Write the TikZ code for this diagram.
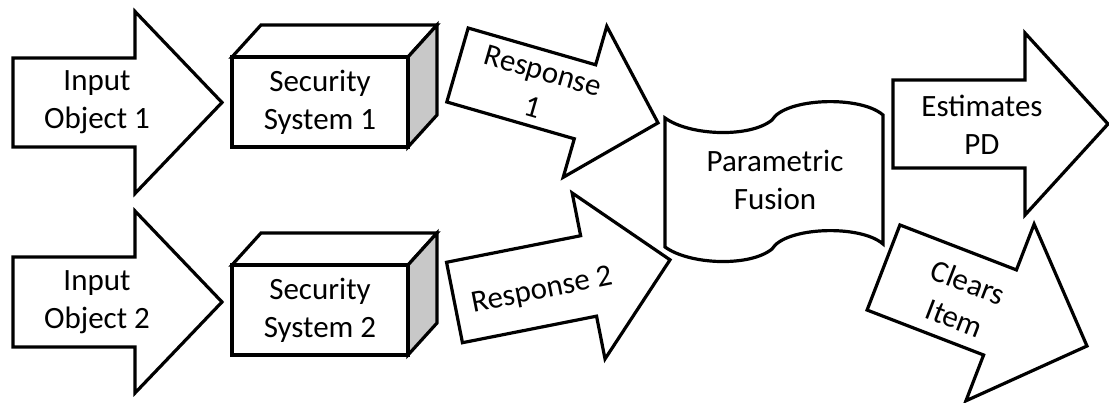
\documentclass[tikz,border=0pt]{standalone}
\usepackage{fontspec}
\setmainfont{Carlito}
\definecolor{sidegray}{RGB}{200,200,200}
% block arrow: back-middle point, angle, total length, half shaft width, head length, half head width
\newcommand\fatarrow[6]{%
  \draw[shape line, shift={(#1)}, rotate=#2]
    (0,-#4) -- ({#3-#5},-#4) -- ({#3-#5},-#6) -- (#3,0)
    -- ({#3-#5},#6) -- ({#3-#5},#4) -- (0,#4) -- cycle;}
% 3D box: front top-left corner x,y ; width ; height ; depth dx ; depth dy
\newcommand\secbox[6]{%
  \draw[shape line] (#1,#2) -- ({#1+#5},{#2+#6}) -- ({#1+#3+#5},{#2+#6}) -- ({#1+#3},#2) -- cycle;
  \draw[shape line, fill=sidegray] ({#1+#3},#2) -- ({#1+#3+#5},{#2+#6})
    -- ({#1+#3+#5},{#2+#4+#6}) -- ({#1+#3},{#2+#4}) -- cycle;
  \draw[shape line] (#1,#2) rectangle ({#1+#3},{#2+#4});}
\begin{document}
\begin{tikzpicture}[x=1pt, y=-1pt,
  shape line/.style={draw=black, line width=3.2pt, fill=white, line join=miter},
  label text/.style={font=\fontsize{31}{38}\selectfont, align=center,
    inner sep=0pt, text=black}]
\useasboundingbox (0,0) rectangle (1109,403);

% input arrows
\fatarrow{13,102.5}{0}{209}{44.5}{87}{91}
\fatarrow{13,302}{0}{209}{45}{87}{91}
\node[label text] (in1) at (97,102) {Input\\Object 1};
\node[label text] (in2) at (97,302) {Input\\Object 2};

% security systems
\secbox{232}{57}{176}{90}{29}{-32}
\secbox{232}{265}{176}{90}{29}{-32}
\node[label text] (sec1) at (320,102) {Security\\System 1};
\node[label text] (sec2) at (320,310) {Security\\System 2};

% responses
\fatarrow{457.5,65}{-16.1}{208.7}{38.5}{76}{78.6}
\fatarrow{454.5,302.5}{11.2}{219.7}{41}{83}{84.6}
\node[label text, rotate=-16.1] (resp1) at (538,89) {Response\\1};
\node[label text, rotate=11.2] (resp2) at (542,291) {Response 2};

% parametric fusion (punched tape)
\draw[shape line] (665,118) .. controls (690,136) and (750,138) .. (772,120)
  .. controls (785,98) and (860,95) .. (883,115) -- (883,244)
  .. controls (860,224) and (785,227) .. (772,249)
  .. controls (750,267) and (690,265) .. (665,247) -- cycle;
\node[label text] (fusion) at (775,180) {Parametric\\Fusion};

% outputs
\fatarrow{893,124}{0}{215}{44}{83}{91}
\fatarrow{883.5,267.5}{-21.1}{218.1}{45.6}{93.2}{94.7}
\node[label text] (est) at (982,125) {Estimates\\PD};
\node[label text, rotate=-21.1] (clr) at (961.5,300) {Clears\\Item};
\end{tikzpicture}
\end{document}
